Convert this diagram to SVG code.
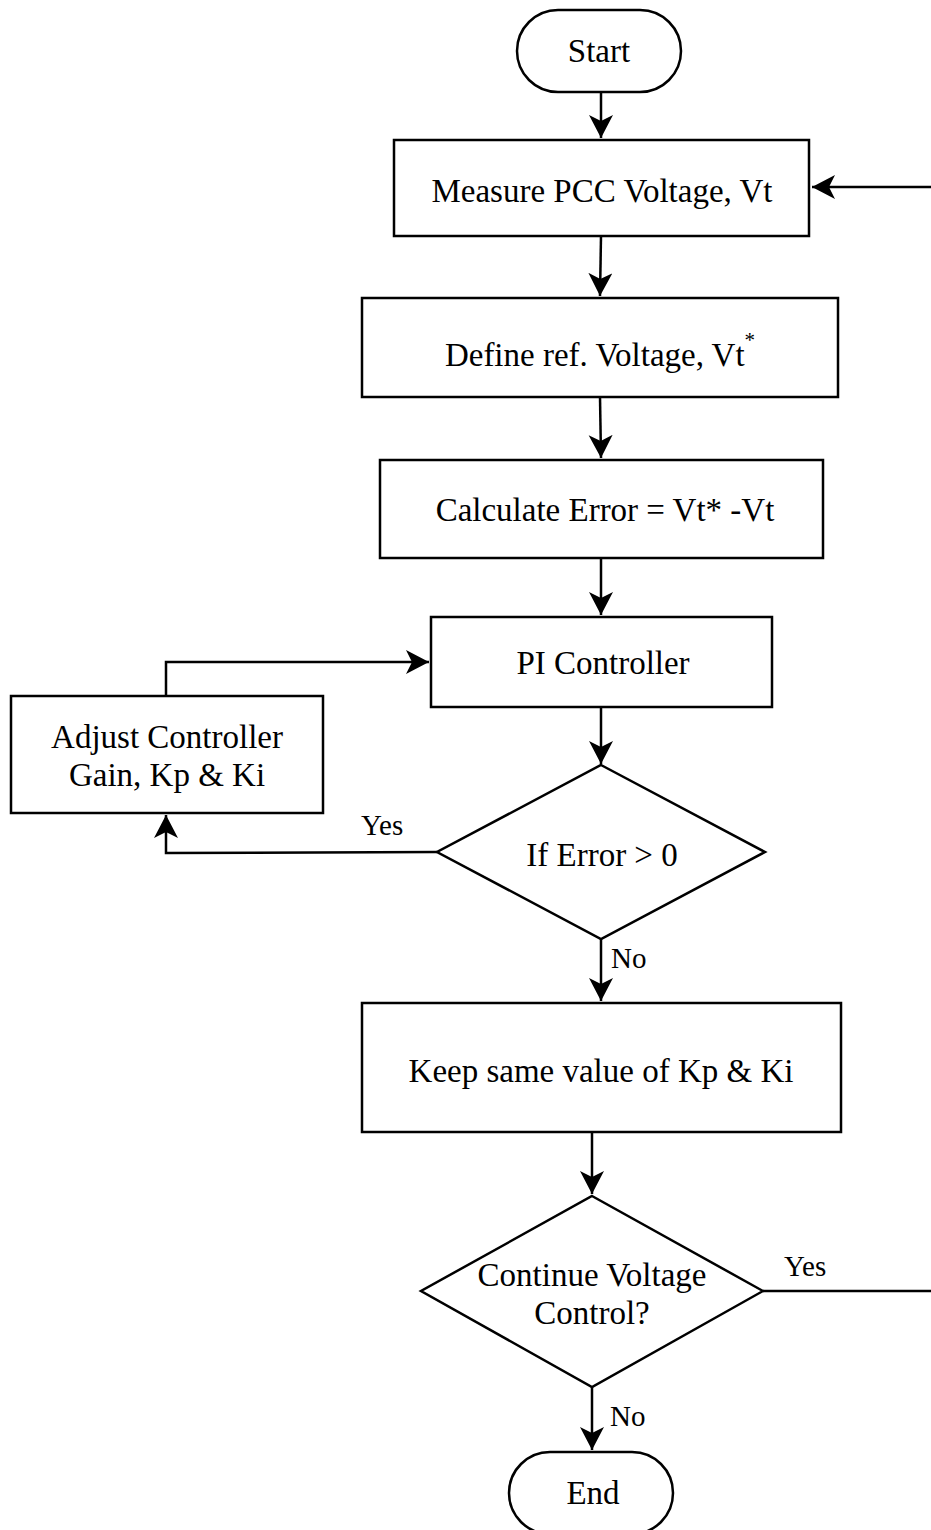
<svg xmlns="http://www.w3.org/2000/svg" width="931" height="1530" viewBox="0 0 931 1530">
  <style>
    .shape { fill: #ffffff; stroke: #000000; stroke-width: 2.5; }
    .edge { fill: none; stroke: #000000; stroke-width: 2.5; }
    .label { font-family: "Liberation Serif", "Times New Roman", serif; font-size: 33px; fill: #000000; text-anchor: middle; }
    .tag { font-family: "Liberation Serif", "Times New Roman", serif; font-size: 29px; fill: #000000; }
  </style>
  <defs>
    <marker id="arrow" markerUnits="userSpaceOnUse" markerWidth="26" markerHeight="26" refX="23" refY="12" orient="auto">
      <path d="M0,0 L23,12 L0,24 L6,12 Z" fill="#000000"/>
    </marker>
  </defs>
  <rect width="931" height="1530" fill="#ffffff"/>

  <!-- connectors -->
  <g id="connectors">
    <path class="edge" d="M601,92 L601,138" marker-end="url(#arrow)"/>
    <path class="edge" d="M931,187 L812,187" marker-end="url(#arrow)"/>
    <path class="edge" d="M601,236 L600,296" marker-end="url(#arrow)"/>
    <path class="edge" d="M600,397 L601,458" marker-end="url(#arrow)"/>
    <path class="edge" d="M601,558 L601,615" marker-end="url(#arrow)"/>
    <path class="edge" d="M166,696 L166,662 L429,662" marker-end="url(#arrow)"/>
    <path class="edge" d="M601,707 L601,764" marker-end="url(#arrow)"/>
    <path class="edge" d="M437,852 L166,853 L166,815" marker-end="url(#arrow)"/>
    <path class="edge" d="M601,939 L601,1001" marker-end="url(#arrow)"/>
    <path class="edge" d="M592,1132 L592,1194" marker-end="url(#arrow)"/>
    <path class="edge" d="M763,1291 L931,1291"/>
    <path class="edge" d="M592,1387 L592,1450" marker-end="url(#arrow)"/>
    <text class="tag" x="361" y="835">Yes</text>
    <text class="tag" x="611" y="968">No</text>
    <text class="tag" x="784" y="1276">Yes</text>
    <text class="tag" x="610" y="1426">No</text>
  </g>

  <g id="start">
    <rect class="shape" x="517" y="10" width="164" height="82" rx="41" ry="41"/>
    <text class="label" x="599" y="62">Start</text>
  </g>

  <g id="measure">
    <rect class="shape" x="394" y="140" width="415" height="96"/>
    <text class="label" x="602" y="202">Measure PCC Voltage, Vt</text>
  </g>

  <g id="define">
    <rect class="shape" x="362" y="298" width="476" height="99"/>
    <text class="label" x="600" y="366">Define ref. Voltage, Vt<tspan font-size="21" dy="-19">*</tspan></text>
  </g>

  <g id="calculate">
    <rect class="shape" x="380" y="460" width="443" height="98"/>
    <text class="label" x="605" y="521">Calculate Error = Vt* -Vt</text>
  </g>

  <g id="pi">
    <rect class="shape" x="431" y="617" width="341" height="90"/>
    <text class="label" x="603" y="674">PI Controller</text>
  </g>

  <g id="adjust">
    <rect class="shape" x="11" y="696" width="312" height="117"/>
    <text class="label" x="167" y="748">Adjust Controller</text>
    <text class="label" x="167" y="786">Gain, Kp &amp; Ki</text>
  </g>

  <g id="error-check">
    <polygon class="shape" points="601,765 765,852 601,939 437,852"/>
    <text class="label" x="602" y="866">If Error &gt; 0</text>
  </g>

  <g id="keep">
    <rect class="shape" x="362" y="1003" width="479" height="129"/>
    <text class="label" x="601" y="1082">Keep same value of Kp &amp; Ki</text>
  </g>

  <g id="continue-check">
    <polygon class="shape" points="592,1196 763,1291 592,1387 421,1291"/>
    <text class="label" x="592" y="1286">Continue Voltage</text>
    <text class="label" x="592" y="1324">Control?</text>
  </g>

  <g id="end">
    <rect class="shape" x="509" y="1452" width="164" height="82" rx="41" ry="41"/>
    <text class="label" x="593" y="1504">End</text>
  </g>
</svg>
